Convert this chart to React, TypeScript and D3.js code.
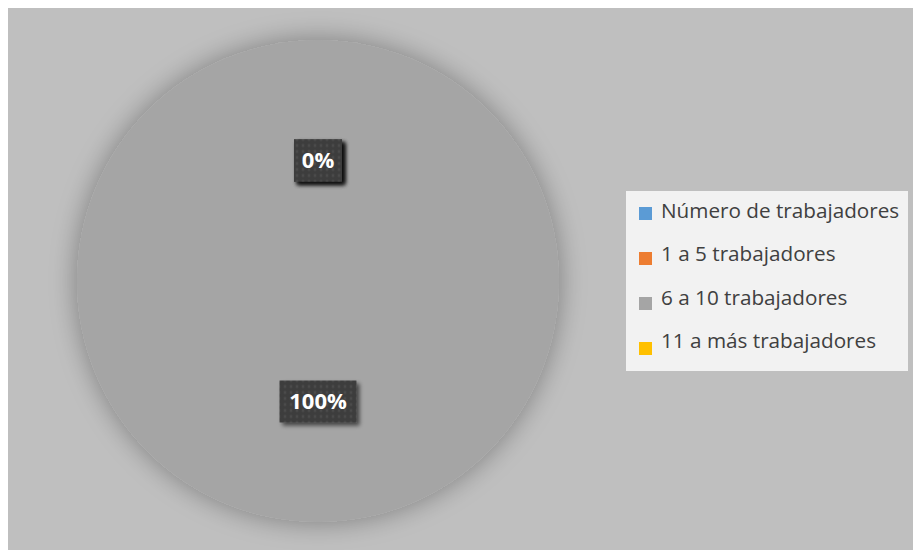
import React, { useEffect } from "react";
import * as d3 from "d3";

const categories = ["Número de trabajadores", "1 a 5 trabajadores", "6 a 10 trabajadores", "11 a más trabajadores"];
const values = [0, 0, 100, 0];
const colors = ["#5b9bd5", "#ed7d31", "#a5a5a5", "#ffc000"];

const W = 913;
const H = 542;

export default function App() {
  useEffect(() => {
    document.body.style.overflow = "hidden";
  }, []);
  const cx = 310;
  const cy = 273;
  const r = 241;
  const pie = d3.pie<number>().sort(null).value((d) => d);
  const arcs = pie(values);
  const arc = d3.arc<d3.PieArcDatum<number>>().innerRadius(0).outerRadius(r);
  const labelArc = d3.arc<d3.PieArcDatum<number>>().innerRadius(r * 0.5).outerRadius(r * 0.5);
  const total = d3.sum(values);
  const fmt = (v: number) => `${Math.round((v / total) * 100)}%`;
  const fontFam = "'Open Sans', sans-serif";

  const legendX = 618;
  const legendY = 183;
  const swatchStep = 45;
  const textStep = 43.3;

  return (
    <svg width={W} height={H} style={{ display: "block" }}>
      <defs>
        <filter id="glow" x="-25%" y="-25%" width="150%" height="150%">
          <feGaussianBlur in="SourceAlpha" stdDeviation="14" />
          <feComponentTransfer>
            <feFuncA type="linear" slope="0.35" />
          </feComponentTransfer>
          <feMerge>
            <feMergeNode />
            <feMergeNode in="SourceGraphic" />
          </feMerge>
        </filter>
        <filter id="boxshadow" x="-30%" y="-30%" width="160%" height="160%">
          <feGaussianBlur in="SourceAlpha" stdDeviation="2" />
          <feOffset dx="3" dy="3" result="o" />
          <feComponentTransfer>
            <feFuncA type="linear" slope="0.6" />
          </feComponentTransfer>
          <feMerge>
            <feMergeNode />
            <feMergeNode in="SourceGraphic" />
          </feMerge>
        </filter>
        <pattern id="dots" width="6" height="6" patternUnits="userSpaceOnUse">
          <rect width="6" height="6" fill="#3d3d3d" />
          <circle cx="3" cy="3" r="1.4" fill="#4b4b4b" />
        </pattern>
      </defs>
      <rect x={0} y={0} width={W} height={H} fill="#bfbfbf" />
      <g transform={`translate(${cx},${cy})`}>
        <g filter="url(#glow)">
          {arcs.map((a, i) =>
            a.value > 0 ? <path key={i} d={arc(a) || ""} fill={colors[i]} /> : null
          )}
        </g>
        {arcs.map((a, i) => {
          const [lx, ly] = labelArc.centroid(a);
          const txt = fmt(a.value);
          const bw = txt.length > 2 ? 77 : 48;
          const bh = 42;
          return (
            <g key={`l${i}`} transform={`translate(${lx},${ly})`}>
              <rect x={-bw / 2} y={-bh / 2} width={bw} height={bh} fill="url(#dots)" filter="url(#boxshadow)" />
              <text
                textAnchor="middle"
                dy="0.36em"
                fill="#ffffff"
                fontWeight="bold"
                fontSize={22}
                fontFamily={fontFam}
              >
                {txt}
              </text>
            </g>
          );
        })}
      </g>
      <rect x={legendX} y={legendY} width={282} height={180} fill="#f2f2f2" />
      {categories.map((c, i) => {
        const top = legendY + 16 + i * swatchStep;
        const base = legendY + 27 + i * textStep;
        return (
          <g key={c}>
            <rect x={legendX + 13} y={top} width={13} height={13} fill={colors[i]} />
            <text x={legendX + 35} y={base} fill="#404040" fontSize={20.7} fontFamily={fontFam}>
              {c}
            </text>
          </g>
        );
      })}
    </svg>
  );
}
